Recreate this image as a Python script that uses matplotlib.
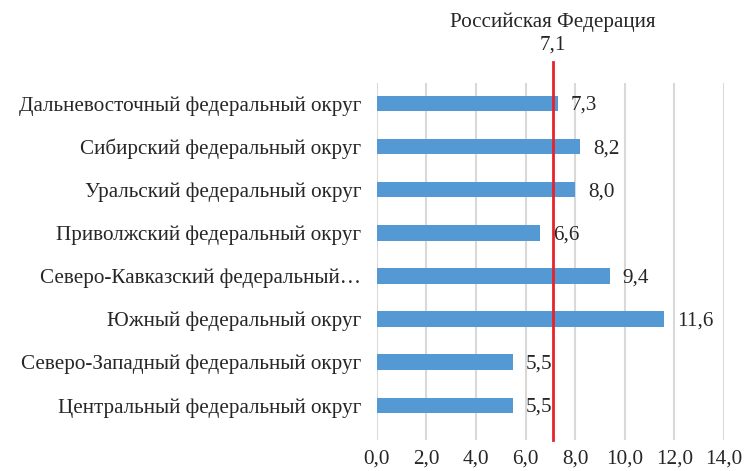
import matplotlib
matplotlib.use("Agg")
import matplotlib.pyplot as plt

categories = [
    "Центральный федеральный округ",
    "Северо-Западный федеральный округ",
    "Южный федеральный округ",
    "Северо-Кавказский федеральный…",
    "Приволжский федеральный округ",
    "Уральский федеральный округ",
    "Сибирский федеральный округ",
    "Дальневосточный федеральный округ",
]
values = [5.5, 5.5, 11.6, 9.4, 6.6, 8.0, 8.2, 7.3]
russia_value = 7.1
russia_label = "Российская Федерация"
xticks = [0, 2, 4, 6, 8, 10, 12, 14]

FONT = "Liberation Serif"
FS = 15.2
TXT = "#262626"

fig = plt.figure(figsize=(7.44, 4.71), dpi=100)
ax = fig.add_axes([0.5063, 0.0658, 0.9731 - 0.5063, 0.8238 - 0.0658])

ypos = list(range(len(categories)))
ax.barh(ypos, values, height=0.36, color="#5599d4", zorder=2)

for y, v in zip(ypos, values):
    ax.annotate(f"{v:.1f}".replace(".", ","), (v, y), xytext=(13, -2),
                textcoords="offset pixels",
                va="center", ha="left", fontsize=FS, family=FONT, color=TXT)

ax.set_xlim(0, 14)
ax.set_ylim(-0.805, 7.476)
ax.set_xticks(xticks)
ax.set_xticklabels([f"{t:.1f}".replace(".", ",") for t in xticks],
                   fontsize=FS, family=FONT, color=TXT)
ax.set_yticks(ypos)
ax.set_yticklabels(categories, fontsize=FS, family=FONT, color=TXT)
ax.tick_params(axis="both", length=0)
ax.tick_params(axis="y", pad=11)
ax.tick_params(axis="x", pad=7)
ax.grid(axis="x", color="#d9d9d9", linewidth=1.5, zorder=0)
ax.set_axisbelow(True)
for s in ax.spines.values():
    s.set_visible(False)

ax.axvline(russia_value, ymin=0, ymax=1.06, color="#e8222b", linewidth=2, zorder=3, clip_on=False)
ax.text(russia_value, 1.106, f"{russia_value:.1f}".replace(".", ","), transform=ax.get_xaxis_transform(),
        ha="center", va="center", fontsize=FS, family=FONT, color=TXT)
ax.text(russia_value, 1.171, russia_label, transform=ax.get_xaxis_transform(),
        ha="center", va="center", fontsize=FS, family=FONT, color=TXT)

fig.savefig("out.png", dpi=100)
